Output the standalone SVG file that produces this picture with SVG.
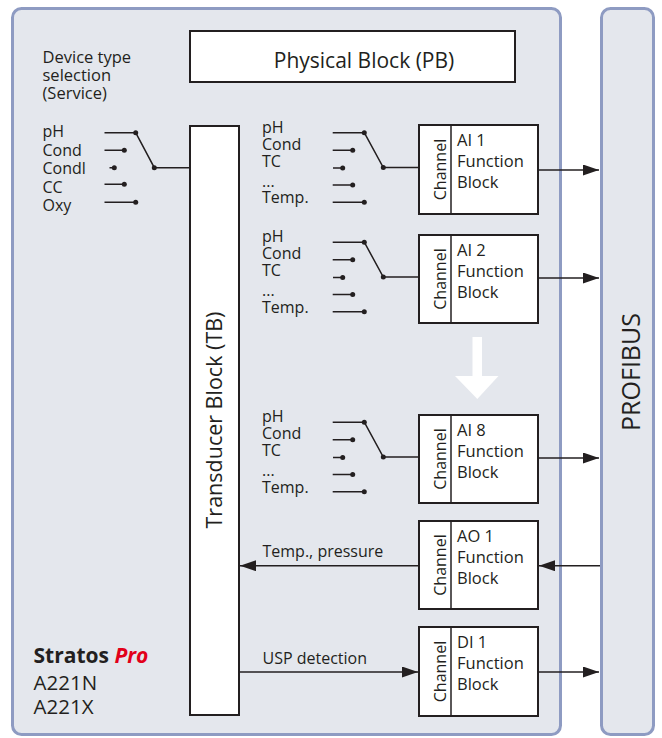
<svg xmlns="http://www.w3.org/2000/svg" width="662" height="738" viewBox="0 0 662 738">
<defs>
<style>
text{font-family:"Open Sans","Noto Sans","Liberation Sans",sans-serif;fill:#231f20}
.lbl{font-size:16px}
.fb{font-size:16.5px}
.ch{font-size:16px;text-anchor:middle}
.panel{fill:#e4e7ed;stroke:#8e9bc2;stroke-width:3}
.box{fill:#fff;stroke:#231f20;stroke-width:2}
.ln{fill:none;stroke:#231f20;stroke-width:1.5}
.dot{fill:#231f20}
.arr{fill:none;stroke:#231f20;stroke-width:1.5;marker-end:url(#ah)}
</style>
<marker id="ah" markerUnits="userSpaceOnUse" markerWidth="16" markerHeight="11" refX="16" refY="5.5" orient="auto">
<path d="M0,0 L16,5.5 L0,11 z" fill="#231f20"/>
</marker>
<g id="sw">
<path class="ln" d="M332.7,132.7H364.3M332.7,150.3H352.7M333,168H342.7M332.7,185H352.7M332.7,202.3H364.3M364.3,132.7L383.3,167.5H419"/>
<circle class="dot" cx="364.3" cy="132.7" r="2.5"/>
<circle class="dot" cx="352.7" cy="150.3" r="2.5"/>
<circle class="dot" cx="342.7" cy="168" r="2.5"/>
<circle class="dot" cx="352.7" cy="185" r="2.5"/>
<circle class="dot" cx="364.3" cy="202.3" r="2.5"/>
<circle class="dot" cx="383.3" cy="167.5" r="2.5"/>
<text class="lbl" x="262" y="132.7">pH</text>
<text class="lbl" x="262" y="149.7">Cond</text>
<text class="lbl" x="262" y="166.7">TC</text>
<text class="lbl" x="262" y="186.5">...</text>
<text class="lbl" x="262" y="203">Temp.</text>
</g>
</defs>

<g id="device-panel">
<rect class="panel" x="12.5" y="8.5" width="548" height="726" rx="9"/>
</g>
<g id="profibus">
<rect class="panel" x="601.5" y="8.5" width="52" height="726" rx="9"/>
<text transform="translate(640,372) rotate(-90)" style="font-size:25px;text-anchor:middle">PROFIBUS</text>
</g>

<g id="physical-block">
<rect class="box" x="190" y="31" width="325" height="51"/>
<text x="364" y="68" style="font-size:21px;text-anchor:middle">Physical Block (PB)</text>
</g>

<g id="transducer-block">
<rect class="box" x="190" y="126" width="49" height="589"/>
<text transform="translate(222,420) rotate(-90)" style="font-size:21.5px;text-anchor:middle">Transducer Block (TB)</text>
</g>

<g id="device-type-selection">
<text class="fb" x="42.5" y="63.3">Device type</text>
<text class="fb" x="42.5" y="81">selection</text>
<text class="fb" x="42.5" y="98.5">(Service)</text>
<text class="lbl" x="42.5" y="137.3">pH</text>
<text class="lbl" x="42.5" y="155.8">Cond</text>
<text class="lbl" x="42.5" y="174.2">Condl</text>
<text class="lbl" x="42.5" y="192.7">CC</text>
<text class="lbl" x="42.5" y="210.7">Oxy</text>
<path class="ln" d="M104.5,132.7H135.7M104.5,150.3H124.3M109.5,167.7H114.3M104.5,184.3H124.3M104.5,202.3H135.7M135.7,132.7L154.3,167.7H190"/>
<circle class="dot" cx="135.7" cy="132.7" r="2.5"/>
<circle class="dot" cx="124.3" cy="150.3" r="2.5"/>
<circle class="dot" cx="114.3" cy="167.7" r="2.5"/>
<circle class="dot" cx="124.3" cy="184.3" r="2.5"/>
<circle class="dot" cx="135.7" cy="202.3" r="2.5"/>
<circle class="dot" cx="154.3" cy="167.7" r="2.5"/>
</g>

<g id="switch-ai1"><use href="#sw"/></g>
<g id="switch-ai2"><use href="#sw" transform="translate(0,109.5)"/></g>
<g id="switch-ai8"><use href="#sw" transform="translate(0,289.5)"/></g>

<g id="ai1">
<rect class="box" x="419" y="125" width="119" height="89"/>
<line class="ln" x1="451" y1="125" x2="451" y2="214"/>
<text class="ch" transform="translate(446,169.5) rotate(-90)">Channel</text>
<text class="fb" x="457" y="146">AI 1</text>
<text class="fb" x="457" y="167.3">Function</text>
<text class="fb" x="457" y="188">Block</text>
</g>
<g id="ai2">
<rect class="box" x="419" y="235" width="119" height="88"/>
<line class="ln" x1="451" y1="235" x2="451" y2="323"/>
<text class="ch" transform="translate(446,279) rotate(-90)">Channel</text>
<text class="fb" x="457" y="256">AI 2</text>
<text class="fb" x="457" y="277.3">Function</text>
<text class="fb" x="457" y="298">Block</text>
</g>
<g id="ai8">
<rect class="box" x="419" y="415" width="119" height="88"/>
<line class="ln" x1="451" y1="415" x2="451" y2="503"/>
<text class="ch" transform="translate(446,459) rotate(-90)">Channel</text>
<text class="fb" x="457" y="436">AI 8</text>
<text class="fb" x="457" y="457.3">Function</text>
<text class="fb" x="457" y="478">Block</text>
</g>
<g id="ao1">
<rect class="box" x="419" y="521" width="119" height="88"/>
<line class="ln" x1="451" y1="521" x2="451" y2="609"/>
<text class="ch" transform="translate(446,565) rotate(-90)">Channel</text>
<text class="fb" x="457" y="542">AO 1</text>
<text class="fb" x="457" y="563">Function</text>
<text class="fb" x="457" y="584">Block</text>
</g>
<g id="di1">
<rect class="box" x="419" y="627" width="119" height="89"/>
<line class="ln" x1="451" y1="627" x2="451" y2="716"/>
<text class="ch" transform="translate(446,671.5) rotate(-90)">Channel</text>
<text class="fb" x="457" y="648">DI 1</text>
<text class="fb" x="457" y="669">Function</text>
<text class="fb" x="457" y="690">Block</text>
</g>

<g id="ellipsis-arrow">
<polygon points="472.5,337 482,337 482,376 498.5,376 477.3,399 455,376 472.5,376" fill="#fff"/>
</g>

<g id="connectors">
<line class="arr" x1="538" y1="170" x2="599" y2="170"/>
<line class="arr" x1="538" y1="278" x2="599" y2="278"/>
<line class="arr" x1="538" y1="458" x2="599" y2="458"/>
<line class="arr" x1="600" y1="565.7" x2="539" y2="565.7"/>
<line class="arr" x1="419" y1="565.7" x2="240" y2="565.7"/>
<line class="arr" x1="239" y1="672" x2="418" y2="672"/>
<line class="arr" x1="538" y1="672" x2="599" y2="672"/>
<text class="lbl" x="262.5" y="556.7">Temp., pressure</text>
<text class="lbl" x="262.5" y="664">USP detection</text>
</g>

<g id="product-label">
<text x="33.5" y="662.7" style="font-size:21px;font-weight:bold">Stratos <tspan style="fill:#e2001a;font-style:italic">Pro</tspan></text>
<text x="33.5" y="690" style="font-size:20.5px">A221N</text>
<text x="33.5" y="714.3" style="font-size:20.5px">A221X</text>
</g>
</svg>
